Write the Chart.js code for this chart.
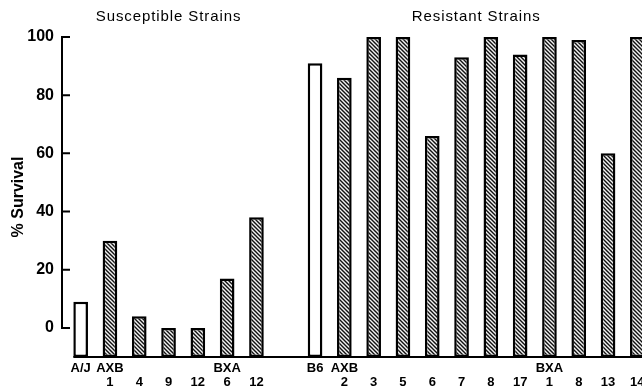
<!DOCTYPE html>
<html>
<head>
<meta charset="utf-8">
<script src="https://cdn.jsdelivr.net/npm/chart.js@4"></script>
<style>
  html, body { margin: 0; padding: 0; background: #fff; overflow: hidden; }
  #wrap { width: 642px; height: 392px; overflow: hidden; }
</style>
</head>
<body>
<div id="wrap"><canvas id="chart" width="660" height="392"></canvas></div>
<script>
// strain labels, two rows under each bar
const groupRow = ['A/J', 'AXB', '', '', '', 'BXA', '', '', 'B6', 'AXB', '', '', '', '', '', '', 'BXA', '', '', ''];
const numRow = ['', '1', '4', '9', '12', '6', '12', '', '', '2', '3', '5', '6', '7', '8', '17', '1', '8', '13', '14'];
// % survival (null = gap between groups)
const survival = [9, 30, 4, 0, 0, 17, 38, null, 91, 86, 100, 100, 66, 93, 100, 94, 100, 99, 60, 100];
const parental = ['A/J', 'B6'];
const yTicks = [0, 20, 40, 60, 80, 100];
const groupTitles = [
  { text: 'Susceptible Strains', at: 3 },
  { text: 'Resistant Strains', at: 13.5 }
];
const floorValue = -10;

// diagonal hatch fill
function makeHatch() {
  const s = 4;
  const c = document.createElement('canvas');
  c.width = s; c.height = s;
  const g = c.getContext('2d');
  g.fillStyle = '#f2f2f2';
  g.fillRect(0, 0, s, s);
  g.strokeStyle = '#111';
  g.lineWidth = 1.4;
  g.beginPath();
  g.moveTo(-1, -1); g.lineTo(s + 1, s + 1);
  g.moveTo(-1, s - 1); g.lineTo(1, s + 1);
  g.moveTo(s - 1, -1); g.lineTo(s + 1, 1);
  g.stroke();
  return g.createPattern(c, 'repeat');
}

const ctx = document.getElementById('chart').getContext('2d');
const hatch = makeHatch();

const labels = groupRow.map((g, i) => [g, numRow[i]]);
const fills = groupRow.map(g => parental.includes(g) ? '#fff' : hatch);

const axisPlugin = {
  id: 'axisPlugin',
  afterDatasetsDraw(chart) {
    const { ctx, scales: { x, y } } = chart;
    const ax = x.left - 4;
    ctx.save();
    ctx.strokeStyle = '#000';
    ctx.lineWidth = 2;
    ctx.beginPath();
    ctx.moveTo(ax, y.getPixelForValue(100));
    ctx.lineTo(ax, y.getPixelForValue(0));
    yTicks.forEach(v => {
      const py = y.getPixelForValue(v);
      ctx.moveTo(ax - 1, py);
      ctx.lineTo(ax + 8, py);
    });
    // baseline along the bottom of the bars
    const meta = chart.getDatasetMeta(0);
    const first = meta.data[0];
    const by = y.getPixelForValue(floorValue);
    ctx.moveTo(first.x - first.width / 2, by);
    ctx.lineTo(chart.width, by);
    ctx.stroke();

    ctx.fillStyle = '#000';
    ctx.font = '15px "Liberation Sans", Arial, sans-serif';
    ctx.letterSpacing = '0.9px';
    ctx.textAlign = 'center';
    ctx.textBaseline = 'middle';
    groupTitles.forEach(t => {
      const px = x.getPixelForValue(Math.floor(t.at)) + (t.at % 1) * (x.getPixelForValue(1) - x.getPixelForValue(0));
      ctx.fillText(t.text, px, 17);
    });
    ctx.restore();
  }
};

new Chart(ctx, {
  type: 'bar',
  data: {
    labels: labels,
    datasets: [{
      data: survival.map(v => v === null ? null : [floorValue, v]),
      backgroundColor: fills,
      borderColor: '#000',
      borderWidth: 2.5,
      borderSkipped: false,
      barPercentage: 0.5,
      categoryPercentage: 1
    }]
  },
  options: {
    responsive: false,
    animation: false,
    layout: { padding: { top: 37, right: 8, left: 0, bottom: 0 } },
    plugins: {
      legend: { display: false },
      tooltip: { enabled: false }
    },
    scales: {
      x: {
        grid: { display: false, drawTicks: false },
        border: { display: false },
        afterFit: s => { s.height = 35; },
        ticks: {
          color: '#000',
          padding: 4,
          maxRotation: 0,
          autoSkip: false,
          font: { family: '"Liberation Sans", Arial, sans-serif', size: 13, weight: 'bold', lineHeight: 1.1 }
        }
      },
      y: {
        min: floorValue,
        max: 100,
        afterBuildTicks: s => { s.ticks = yTicks.map(v => ({ value: v })); },
        afterFit: s => { s.width = 66; },
        grid: { display: false, drawTicks: false },
        border: { display: false },
        ticks: {
          color: '#000',
          padding: 12,
          font: { family: '"Liberation Sans", Arial, sans-serif', size: 16, weight: 'bold' }
        },
        title: {
          display: true,
          text: '% Survival',
          color: '#000',
          padding: { top: 9, bottom: 0 },
          font: { family: '"Liberation Sans", Arial, sans-serif', size: 16, weight: 'bold' }
        }
      }
    }
  },
  plugins: [axisPlugin]
});
</script>
</body>
</html>
